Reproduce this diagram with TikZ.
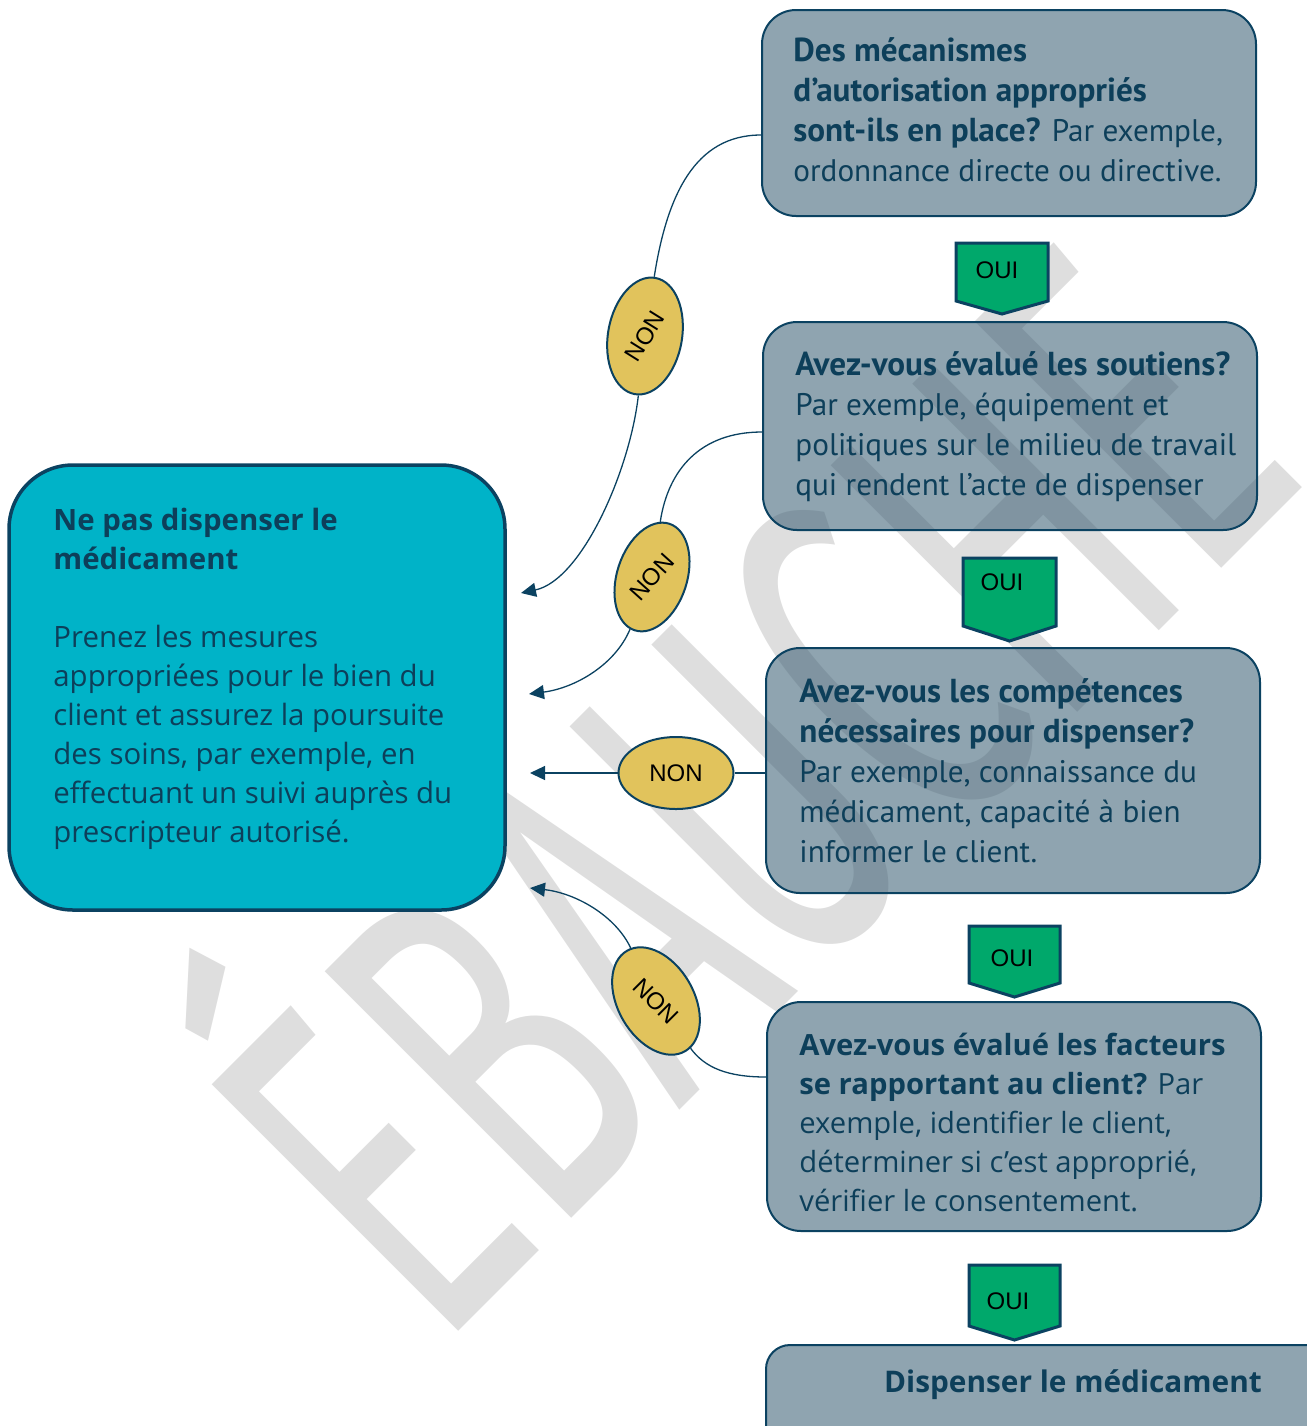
\documentclass[tikz,border=0pt]{standalone}
\usepackage{fontspec}
\usepackage{graphicx}
\usetikzlibrary{shapes.geometric,arrows.meta,calc}
\setmainfont{PT Sans}
\newfontfamily\sspf{PT Sans}
\newfontfamily\aptf{Open Sans}
\newfontfamily\arif{Liberation Sans}
\newfontfamily\wmf{Fira Sans}
\newcommand\qb[1]{{\fontsize{16.6}{20}\selectfont\bfseries #1}}
\definecolor{bordc}{HTML}{0B4261}
\definecolor{txtc}{HTML}{0D3F5A}
\definecolor{boxc}{HTML}{33596F}
\definecolor{leftc}{HTML}{00B3C8}
\definecolor{ouic}{HTML}{00A86B}
\definecolor{nonc}{HTML}{E1C35C}
\definecolor{wmc}{HTML}{DEDEDE}
\begin{document}
\begin{tikzpicture}[x=0.5pt,y=-0.5pt,
  qbox/.style={rectangle, draw=bordc, line width=1pt, fill=boxc, fill opacity=0.55, rounded corners=17pt, inner sep=0, minimum width=247pt},
  lbox/.style={rectangle, draw=bordc, line width=1.75pt, fill=leftc, rounded corners=32pt, inner sep=0},
  qtxt/.style={anchor=north west, inner sep=0, align=left, text=txtc, font=\sspf\fontsize{15.6}{20}\selectfont},
  atxt/.style={anchor=north west, inner sep=0, align=left, text=txtc, font=\aptf\fontsize{14.6}{19.5}\selectfont},
  ltxt/.style={anchor=north west, inner sep=0, align=left, text=txtc, font=\aptf\fontsize{14.7}{19.5}\selectfont},
  ouishape/.style={draw=bordc, line width=1.5pt, fill=ouic, line join=miter},
  ouitxt/.style={inner sep=0, text=black, font=\arif\fontsize{12}{14}\selectfont},
  nonell/.style={ellipse, draw=bordc, line width=1pt, fill=nonc, inner sep=0},
  nontxt/.style={inner sep=0, text=black, font=\arif\fontsize{12}{14}\selectfont},
  conn/.style={draw=bordc, line width=0.65pt},
  arr/.style={-{Triangle[length=7.5pt,width=7pt]}},
  wmark/.style={inner sep=0, text=wmc, anchor=base west}
]
\useasboundingbox (0,0) rectangle (1307,1426);
\clip (0,0) rectangle (1307,1426);

% watermark
\node[wmark, rotate=45] (wm) at (437,1353) {\resizebox{620pt}{\height}{\wmf\fontsize{253}{253}\selectfont ÉBAUCHE}};

% question boxes
\node[qbox, minimum height=103pt] (b1) at (1009,113) {};
\node[qbox, minimum height=104pt] (b2) at (1010,426) {};
\node[qbox, minimum height=122.5pt] (b3) at (1013,770.5) {};
\node[qbox, minimum height=114.5pt] (b4) at (1014,1116.5) {};
\node[qbox, minimum width=282pt, minimum height=62.5pt, rounded corners=12pt] (b5) at (1048,1407.5) {};
\node[lbox, minimum width=248pt, minimum height=222.5pt] (lb) at (257,687.5) {};

% texts
\node[qtxt] (t1) at (793,33) {\strut\qb{Des mécanismes}\\
\qb{d’autorisation appropriés}\\
\qb{sont-ils en place?} Par exemple,\\
ordonnance directe ou directive.};
\node[qtxt] (t2) at (795,347) {\strut\qb{Avez-vous évalué les soutiens?}\\
Par exemple, équipement et\\
politiques sur le milieu de travail\\
qui rendent l’acte de dispenser};
\node[qtxt] (t3) at (799,674) {\strut\qb{Avez-vous les compétences}\\
\qb{nécessaires pour dispenser?}\\
Par exemple, connaissance du\\
médicament, capacité à bien\\
informer le client.};
\node[atxt] (t4) at (799,1027.7) {\strut\textbf{Avez-vous évalué les facteurs}\\
\textbf{se rapportant au client?} Par\\
exemple, identifier le client,\\
déterminer si c’est approprié,\\
vérifier le consentement.};
\node[inner sep=0, text=txtc, font=\aptf\bfseries\fontsize{14.9}{19}\selectfont, anchor=base] (t5) at (1073,1392) {Dispenser le médicament};
\node[ltxt] (tl) at (53,502.7) {\strut\textbf{Ne pas dispenser le}\\
\textbf{médicament}\\[19.5pt]
Prenez les mesures\\
appropriées pour le bien du\\
client et assurez la poursuite\\
des soins, par exemple, en\\
effectuant un suivi auprès du\\
prescripteur autorisé.};

% OUI arrows
\draw[ouishape] (956,243) -- (1048,243) -- (1048,301) -- (1002,314) -- (956,301) -- cycle;
\node[ouitxt] (o1) at (997,270) {OUI};
\draw[ouishape] (963,558) -- (1056,558) -- (1056,626) -- (1009.5,641) -- (963,626) -- cycle;
\node[ouitxt] (o2) at (1002,582) {OUI};
\draw[ouishape] (969,926) -- (1060,926) -- (1060,983) -- (1014.5,997) -- (969,983) -- cycle;
\node[ouitxt] (o3) at (1012,958) {OUI};
\draw[ouishape] (969,1265) -- (1060,1265) -- (1060,1326) -- (1014.5,1340) -- (969,1326) -- cycle;
\node[ouitxt] (o4) at (1008,1301) {OUI};

% NON ellipses
\node[nonell, minimum width=59pt, minimum height=37pt, rotate=80] (n1) at (645,336) {};
\node[nontxt, rotate=58] (n1t) at (n1.center) {NON};
\node[nonell, minimum width=56pt, minimum height=35pt, rotate=72] (n2) at (652,577) {};
\node[nontxt, rotate=48] (n2t) at (n2.center) {NON};
\node[nonell, minimum width=57.5pt, minimum height=36pt] (n3) at (676,773) {};
\node[nontxt] (n3t) at (n3.center) {NON};
\node[nonell, minimum width=58pt, minimum height=38pt, rotate=120] (n4) at (656,1001) {};
\node[nontxt, rotate=-45] (n4t) at (n4.center) {NON};

% arrow tips
\coordinate (a1) at (521,593);
\coordinate (a2) at (529,694);
\coordinate (a3) at (530,773);
\coordinate (a4) at (530,888);

% connectors
\draw[conn] ($(b1.west)+(0,22)$) .. controls (695,135) and (667,195) .. (n1);
\draw[conn,arr] (n1) .. controls (630,470) and (582,580) .. (a1);
\draw[conn] ($(b2.west)+(0,6)$) .. controls (700,432) and (668,470) .. (n2);
\draw[conn,arr] (n2) .. controls (615,665) and (575,688) .. (a2);
\draw[conn] ($(b3.west)+(0,2.5)$) -- (n3);
\draw[conn,arr] (n3) -- (a3);
\draw[conn] ($(b4.west)+(0,-39.5)$) .. controls (728,1077) and (705,1068) .. (n4);
\draw[conn,arr] (n4) .. controls (615,915) and (575,893) .. (a4);
\end{tikzpicture}
\end{document}
